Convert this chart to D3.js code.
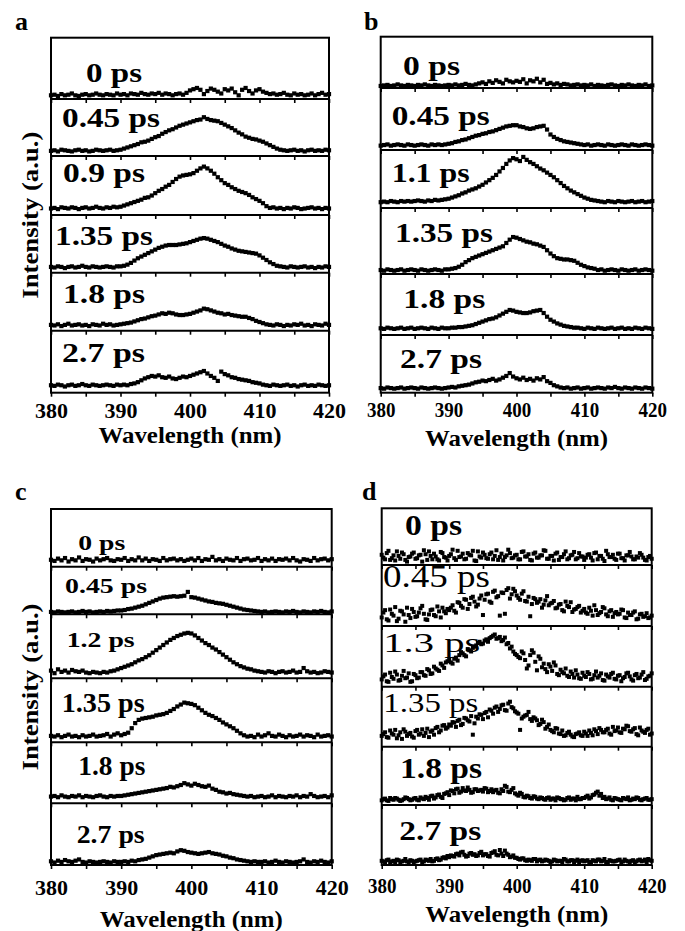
<!DOCTYPE html>
<html>
<head>
<meta charset="utf-8">
<script src="https://cdn.jsdelivr.net/npm/d3@7"></script>
<style>
  body { margin: 0; background: #fff; }
  svg { display: block; }
</style>
</head>
<body>
<div id="chart"></div>
<script>
// sample grid: 380..420 nm every 0.5 nm (81 points per trace)
const wavelength = d3.range(380, 420.25, 0.5);
// panel d has a second, interleaved set of points (380.25 .. 419.75 nm)
const wavelengthHalf = d3.range(380.25, 420, 0.5);
const xTicks = [380, 385, 390, 395, 400, 405, 410, 415, 420];
const xTickLabels = [380, 390, 400, 410, 420];
const FONT = "Liberation Serif";

// intensities in % of the sub-panel height
const delaysA = ["0 ps", "0.45 ps", "0.9 ps", "1.35 ps", "1.8 ps", "2.7 ps"];
const spectraA = [
  [6,7,5,8,6,7,9,6,5,7,8,6,7,9,7,6,8,7,6,9, 7,8,6,9,8,7,10,8,7,9,8,10,7,9,8,6,8,9,7,10, 14,16,18,15,8,13,17,15,12,9,16,14,17,11,6,15,18,13,9,14, 16,12,10,8,9,7,8,10,7,6,9,7,8,6,7,9,6,8,10,7,8],
  [9,10,8,11,10,9,8,10,11,9,10,8,9,11,10,9,10,11,9,10, 11,13,15,17,19,21,24,25,27,30,33,35,39,42,45,47,50,53,55,57, 59,61,63,64,68,65,63,62,61,58,55,52,49,45,41,38,34,32,30,29, 27,25,22,19,16,13,11,10,9,10,11,9,10,8,10,11,9,10,9,11,10],
  [11,12,10,13,12,11,13,12,10,12,13,11,12,14,12,11,13,12,14,13, 14,16,18,20,22,24,26,29,30,33,37,41,44,48,51,56,61,65,67,68, 69,71,75,79,82,79,75,70,64,59,54,51,47,44,41,39,37,34,30,27, 24,20,15,12,13,11,12,10,12,11,13,12,10,11,12,13,11,12,10,12,11],
  [10,9,11,10,8,10,11,9,10,12,10,9,11,10,9,10,11,10,9,11, 11,12,14,17,21,25,28,31,34,37,40,43,45,47,48,48,48,49,50,51, 53,55,57,59,60,59,57,55,53,50,47,45,42,40,38,37,36,35,34,33, 30,26,22,18,15,12,11,10,9,11,10,9,10,11,9,10,8,10,9,11,10],
  [10,9,11,8,10,12,9,10,11,9,10,8,11,10,9,12,10,11,9,10, 11,12,13,14,16,18,20,21,23,25,26,28,30,29,31,30,28,27,27,28, 29,31,33,35,38,37,35,33,31,30,28,29,27,26,25,24,24,22,20,17, 15,13,11,10,9,11,10,8,10,9,11,10,12,9,10,8,11,10,9,12,10],
  [12,11,13,12,10,12,13,11,12,14,12,11,13,12,11,12,13,12,11,13, 12,13,12,14,15,17,20,23,25,27,26,28,25,24,26,23,22,24,26,25, 27,29,31,33,35,31,27,24,19,34,30,28,25,24,22,21,20,19,17,16, 15,13,12,11,13,12,11,12,13,11,12,10,12,13,11,12,11,13,12,11,12]
];

const delaysB = ["0 ps", "0.45 ps", "1.1 ps", "1.35 ps", "1.8 ps", "2.7 ps"];
const spectraB = [
  [4,5,6,4,5,7,5,4,6,5,4,6,5,7,5,4,6,5,4,5, 6,5,7,5,6,8,6,5,7,9,11,8,13,10,15,12,9,16,13,11, 14,12,17,9,15,13,18,11,16,8,10,7,9,6,8,7,5,6,7,5, 6,5,7,4,6,5,4,6,7,5,4,6,5,7,5,4,6,5,7,4,5],
  [7,8,9,7,8,9,8,7,9,8,7,8,9,8,7,9,8,9,8,9, 10,11,13,14,16,17,19,21,23,24,26,27,29,30,32,34,36,38,39,40, 40,38,37,35,34,35,37,38,39,33,25,21,18,16,14,13,12,11,10,9, 8,9,7,8,9,8,7,9,8,7,8,9,8,7,9,8,7,8,9,8,7],
  [10,11,10,12,11,10,12,11,12,11,12,13,12,11,13,12,14,13,14,15, 16,18,20,22,25,27,30,32,34,37,40,44,48,52,57,63,69,76,82,86, 84,81,88,83,79,76,72,68,65,61,57,53,48,43,38,34,30,27,24,21, 18,16,14,13,12,11,10,12,11,10,12,11,10,11,12,10,11,12,10,11,12],
  [6,5,7,6,5,6,7,5,6,7,6,5,7,6,5,6,7,6,5,7, 7,8,9,11,14,18,21,24,26,28,30,32,34,36,38,40,42,47,52,56, 55,53,51,49,48,46,45,43,41,36,31,27,24,23,22,22,21,20,17,14, 12,10,9,8,6,7,5,6,7,6,5,7,6,5,6,7,5,6,7,6,5],
  [11,10,12,11,10,11,12,10,11,12,10,11,12,11,10,12,11,10,12,11, 11,12,12,13,13,14,15,16,18,20,22,24,26,27,29,32,35,38,41,40, 38,37,36,36,37,39,40,41,36,30,25,22,19,17,15,14,13,12,12,11, 10,12,11,10,12,11,10,11,12,10,11,12,10,11,10,12,11,10,12,11,10],
  [8,7,9,8,7,8,9,7,8,9,8,7,9,8,7,8,9,8,7,8, 9,10,9,11,12,13,14,16,18,19,21,20,22,24,21,23,26,29,34,28, 25,23,26,22,24,21,25,23,27,20,17,13,11,9,8,9,7,8,9,7, 8,9,7,8,9,8,7,9,8,10,8,7,9,8,7,9,8,7,9,8,7]
];

const delaysC = ["0 ps", "0.45 ps", "1.2 ps", "1.35 ps", "1.8 ps", "2.7 ps"];
const spectraC = [
  [12,10,14,11,15,9,13,11,16,10,13,12,9,14,11,13,15,11,10,13, 12,15,10,13,11,16,11,14,10,13,12,10,15,11,13,14,11,13,10,12, 14,11,15,10,13,12,17,11,13,10,14,12,11,15,10,13,14,11,12,15, 10,13,11,14,10,13,12,14,11,15,11,9,13,12,10,15,11,13,14,11,13],
  [5,4,6,5,4,5,6,4,5,7,5,6,4,5,6,5,7,6,7,8, 8,9,11,12,14,16,18,21,24,27,30,33,35,36,37,38,37,38,39,47, 36,35,33,31,29,27,26,24,23,22,20,18,16,14,12,10,9,8,7,6, 5,6,4,5,6,5,4,6,5,7,5,4,6,5,4,6,5,7,5,4,6],
  [12,8,14,10,12,9,13,11,10,12,9,8,10,9,8,10,9,11,12,14, 16,18,20,22,25,28,30,33,36,40,44,48,52,56,60,63,66,68,70,71, 70,67,63,59,55,52,48,45,41,37,33,29,25,22,19,17,15,14,12,11, 10,9,11,10,8,10,11,9,10,12,9,10,16,11,9,10,8,9,11,10,9],
  [10,9,11,8,10,12,9,10,8,11,9,10,12,9,10,11,13,9,12,14, 11,13,15,22,30,35,37,38,39,40,42,43,44,46,49,52,56,59,62,61, 60,58,54,50,46,43,41,38,35,31,28,25,22,18,14,11,9,10,8,12, 9,11,14,10,9,12,10,8,11,9,10,12,9,11,10,8,12,9,10,11,9],
  [11,12,10,13,11,10,12,11,13,10,12,11,10,12,13,11,10,12,11,12, 12,13,14,15,16,17,18,19,20,21,22,23,24,25,27,26,28,30,33,31, 29,32,30,28,27,29,24,22,19,18,16,17,15,14,13,12,11,12,10,11, 12,10,11,13,10,12,11,10,12,11,13,10,12,11,15,12,10,11,12,10,13],
  [6,4,7,5,8,6,5,7,9,5,4,6,5,4,5,6,5,4,6,5, 5,6,5,7,6,8,9,10,12,14,16,17,18,19,20,19,22,24,23,21, 20,19,18,19,20,21,19,18,17,15,14,12,11,9,8,7,6,5,6,5, 5,6,4,5,7,5,4,6,5,4,5,6,9,5,4,6,5,7,5,4,6]
];

const delaysD = ["0 ps", "0.45 ps", "1.3 ps", "1.35 ps", "1.8 ps", "2.7 ps"];
const spectraD = [
  [18,10,25,12,8,16,22,9,14,20,11,17,6,19,24,10,15,8,21,13, 16,27,9,14,20,11,18,25,7,15,22,12,19,10,26,14,8,17,21,13, 18,10,24,15,9,20,13,17,26,11,16,8,22,14,19,10,17,23,12,15, 9,18,13,21,10,16,7,19,14,11,20,12,8,17,15,10,13,18,9,14,11],
  [14,26,9,20,31,12,24,7,18,28,15,22,33,11,19,27,16,24,30,21, 26,34,22,38,30,43,36,48,32,45,18,52,40,56,47,17,54,59,45,61, 50,43,57,40,16,46,38,44,35,49,37,41,30,36,24,33,39,27,31,22, 28,20,25,34,18,23,29,16,26,21,19,27,14,22,18,24,12,20,16,13,17],
  [12,20,8,16,25,10,18,14,22,9,19,15,24,18,27,22,30,26,35,40, 44,38,48,52,55,50,60,64,68,74,71,78,80,84,79,82,77,70,63,58, 52,47,55,30,52,56,27,46,38,24,33,40,21,28,22,18,25,15,20,13, 18,24,12,19,15,22,10,17,21,13,18,9,16,23,12,19,14,20,11,17,22],
  [18,24,15,22,28,19,13,25,21,17,26,20,29,23,16,27,31,24,35,30, 37,41,33,45,38,47,42,20,50,54,46,58,62,55,67,63,70,60,75,64, 57,28,50,53,46,49,44,38,41,33,28,24,30,21,18,23,20,16,22,19, 25,18,23,29,21,28,24,30,20,26,32,23,29,34,25,31,19,27,23,30,22],
  [8,11,7,10,12,9,8,13,10,9,12,8,11,14,9,16,13,18,12,20, 17,24,27,21,29,24,26,22,27,25,23,28,24,22,26,20,24,31,22,29, 18,21,14,16,12,15,11,13,10,12,9,11,13,10,8,12,9,11,14,10, 12,16,13,18,23,19,14,11,9,12,10,8,11,13,9,10,12,8,11,9,10],
  [7,5,9,6,4,8,6,10,5,7,6,8,5,9,7,6,10,8,12,11, 13,15,18,16,22,14,19,17,15,20,16,18,14,21,17,25,15,19,13,16, 12,9,11,7,8,10,6,9,7,8,5,9,6,7,10,6,8,5,9,7, 6,8,5,7,9,6,10,5,7,6,8,5,9,6,7,5,8,6,9,10,7]
];
// interleaved points of panel d (80 per trace)
const spectraDHalf = [
  [13,21,9,17,24,11,19,6,15,22, 12,18,26,9,16,20,10,23,14,8, 19,12,25,15,10,21,17,8,24,13, 18,11,22,16,9,20,14,27,12,17, 10,23,15,19,8,22,13,17,25,11, 16,20,9,14,24,12,18,10,21,15, 13,19,8,22,16,11,25,14,18,9, 20,12,17,23,10,15,21,13,8,16],
  [22,11,27,17,8,25,19,30,13,23, 16,29,20,10,26,18,32,14,24,28, 30,25,39,33,44,28,46,40,35,50, 43,53,38,58,49,55,20,62,52,57, 46,53,41,48,36,44,40,30,42,34, 38,29,35,26,40,31,23,28,33,25, 22,30,17,26,21,31,19,24,15,23, 20,26,13,18,22,11,19,15,21,14],
  [17,9,23,13,20,11,26,15,8,21, 14,24,19,29,21,33,28,38,31,42, 40,46,43,57,52,62,58,66,72,70, 76,74,82,86,80,75,81,72,66,54, 49,58,44,35,60,41,50,32,29,37, 26,35,19,24,30,16,21,27,14,23, 16,21,13,25,18,11,20,15,23,12, 19,14,22,17,10,21,15,24,13,18],
  [21,16,27,20,14,24,29,18,23,15, 28,22,18,30,25,20,33,27,36,32, 35,40,43,36,48,44,51,39,47,53, 56,49,60,65,58,69,61,72,66,59, 55,47,52,58,43,47,36,45,30,37, 26,31,22,27,19,25,17,21,24,18, 22,27,19,26,31,24,28,22,33,27, 24,30,35,26,29,21,32,25,28,20],
  [10,8,12,9,11,7,10,12,8,11, 9,13,10,12,15,11,17,14,19,22, 25,20,28,23,25,30,21,27,24,26, 29,22,27,25,21,27,33,23,26,20, 16,19,13,15,11,14,10,12,9,13, 11,8,12,10,9,13,11,8,10,12, 14,11,17,21,16,12,10,13,8,11, 9,12,10,8,11,13,9,10,12,9],
  [6,8,5,7,9,5,7,6,8,5, 7,9,6,8,10,7,11,9,13,15, 16,14,19,21,17,15,20,18,16,22, 18,15,20,23,16,19,24,17,14,12, 10,11,8,9,7,10,8,6,9,7, 6,8,7,5,9,6,8,7,5,8, 7,5,8,6,9,7,5,8,6,7, 9,6,7,5,8,6,9,7,5,8]
];

// layout of each panel: frame edges, sub-panel borders, label boxes [x, baseline, size, width, weight]
const panels = [
  { letter: "a", delays: delaysA, spectra: spectraA, x0: 51, x1: 329,
    rows: [37.7, 99, 156, 215, 272.7, 330.7, 392.7], letterAt: [15, 30],
    tickLabelY: 25, tickLabelW: 33, titleY: 443, yTitle: true, mark: 4.2,
    labels: [[86, 82, 27, 56, 700], [62, 126.7, 27, 98, 700], [63, 181.7, 28, 82, 700],
             [55, 245, 27, 98, 700], [63, 303, 28, 82, 700], [62, 361.7, 28, 83, 700]] },
  { letter: "b", delays: delaysB, spectra: spectraB, x0: 380.7, x1: 652.3,
    rows: [36.7, 88, 150, 208, 274, 335, 392.7], letterAt: [364, 30],
    tickLabelY: 24, tickLabelW: 28.5, titleY: 446, yTitle: false, mark: 4.2,
    labels: [[403, 75, 27, 57, 700], [391.7, 125, 27, 98, 700], [391.7, 181.7, 28, 78, 700],
             [395, 241.7, 27, 98, 700], [403.3, 308.3, 28, 82, 700], [400, 368.3, 28, 82, 700]] },
  { letter: "c", delays: delaysC, spectra: spectraC, x0: 51, x1: 331.7,
    rows: [509, 566.7, 614.3, 678.3, 742.3, 803.3, 865], letterAt: [15, 500],
    tickLabelY: 29.5, tickLabelW: 33, titleY: 927, yTitle: true, mark: 4.2,
    labels: [[78.3, 550, 21, 47, 700], [65, 593.3, 21, 82, 700], [66.7, 646.7, 21, 68, 700],
             [61.7, 711.7, 27, 83, 700], [78.3, 775, 27, 67, 700], [76.7, 843.3, 26, 68, 700]] },
  { letter: "d", delays: delaysD, spectra: spectraD, extra: spectraDHalf, x0: 381.7, x1: 651.7,
    rows: [508.3, 565, 626, 686.7, 746.7, 805, 865], letterAt: [362, 500],
    tickLabelY: 28, tickLabelW: 28.5, titleY: 922, yTitle: false, mark: 4,
    labels: [[405, 535, 30, 57, 700], [383, 586.7, 31, 107, 400], [383.3, 651.7, 28, 97, 400],
             [383.3, 711.7, 27, 95, 400], [400, 778.3, 29, 82, 700], [399.3, 840, 28, 82, 700]] }
];

const svg = d3.select("#chart").append("svg")
  .attr("width", 685)
  .attr("height", 931)
  .attr("font-family", FONT);

panels.forEach(drawPanel);

function drawMarkers(g, xs, vals, xScale, yScale, size) {
  g.append("g").selectAll("rect")
    .data(vals)
    .join("rect")
    .attr("x", (v, i) => xScale(xs[i]) - size / 2)
    .attr("y", v => yScale(v) - size / 2)
    .attr("width", size)
    .attr("height", size)
    .attr("fill", "#000");
}

function drawPanel(p) {
  const g = svg.append("g").attr("class", "panel-" + p.letter);
  const xScale = d3.scaleLinear().domain([380, 420]).range([p.x0, p.x1]);
  const top = p.rows[0], bottom = p.rows[p.rows.length - 1];

  p.spectra.forEach((vals, k) => {
    const yScale = d3.scaleLinear().domain([0, 100]).range([p.rows[k + 1], p.rows[k]]);
    const last = k === p.spectra.length - 1;

    // tick marks hang below every sub-panel
    const axis = d3.axisBottom(xScale)
      .tickValues(xTicks)
      .tickSize(4)
      .tickSizeOuter(0)
      .tickFormat(d => (last && xTickLabels.includes(d)) ? d : "");
    const ax = g.append("g")
      .attr("transform", "translate(0," + p.rows[k + 1] + ")")
      .call(axis)
      .attr("font-family", FONT);
    ax.select(".domain").remove();
    ax.selectAll(".tick line").attr("stroke", "#000").attr("stroke-width", 1.6);
    ax.selectAll(".tick text")
      .attr("y", p.tickLabelY)
      .attr("dy", 0)
      .attr("fill", "#000")
      .attr("font-family", FONT)
      .attr("font-size", 22)
      .attr("font-weight", 700)
      .attr("textLength", d => xTickLabels.includes(d) ? p.tickLabelW : null)
      .attr("lengthAdjust", "spacingAndGlyphs");

    drawMarkers(g, wavelength, vals, xScale, yScale, p.mark);
    if (p.extra) drawMarkers(g, wavelengthHalf, p.extra[k], xScale, yScale, p.mark);

    const lab = p.labels[k];
    g.append("text")
      .attr("x", lab[0])
      .attr("y", lab[1])
      .attr("font-family", FONT)
      .attr("font-size", lab[2])
      .attr("font-weight", lab[4])
      .attr("textLength", lab[3])
      .attr("lengthAdjust", "spacingAndGlyphs")
      .text(p.delays[k]);
  });

  // frame and dividers
  g.append("rect")
    .attr("x", p.x0).attr("y", top)
    .attr("width", p.x1 - p.x0).attr("height", bottom - top)
    .attr("fill", "none").attr("stroke", "#000").attr("stroke-width", 2);
  g.selectAll(".divider")
    .data(p.rows.slice(1, -1))
    .join("line")
    .attr("class", "divider")
    .attr("x1", p.x0).attr("x2", p.x1)
    .attr("y1", d => d).attr("y2", d => d)
    .attr("stroke", "#000").attr("stroke-width", 2);

  g.append("text")
    .attr("x", p.letterAt[0]).attr("y", p.letterAt[1])
    .attr("font-family", FONT)
    .attr("font-size", 26).attr("font-weight", 700)
    .text(p.letter);

  g.append("text")
    .attr("x", (p.x0 + p.x1) / 2).attr("y", p.titleY)
    .attr("text-anchor", "middle")
    .attr("font-family", FONT)
    .attr("font-size", 23).attr("font-weight", 700)
    .attr("textLength", 183).attr("lengthAdjust", "spacingAndGlyphs")
    .text("Wavelength (nm)");

  if (p.yTitle) {
    g.append("text")
      .attr("transform", "translate(38," + ((top + bottom) / 2) + ") rotate(-90)")
      .attr("text-anchor", "middle")
      .attr("font-family", FONT)
      .attr("font-size", 24).attr("font-weight", 700)
      .attr("textLength", 167).attr("lengthAdjust", "spacingAndGlyphs")
      .text("Intensity (a.u.)");
  }
}
</script>
</body>
</html>
